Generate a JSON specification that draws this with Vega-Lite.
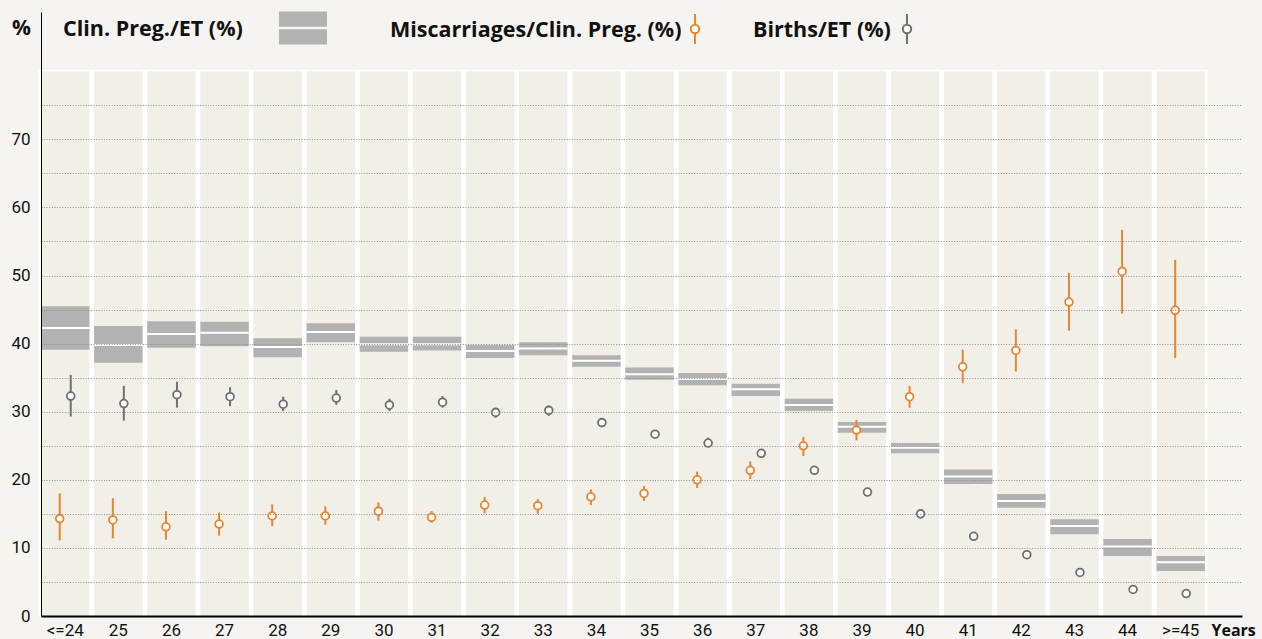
{
  "$schema": "https://vega.github.io/schema/vega-lite/v6.json",
  "width": 1201,
  "height": 604,
  "autosize": "none",
  "padding": {"left": 41, "top": 12, "right": 20, "bottom": 23},
  "background": "#f5f4f0",
  "config": {
    "view": {"stroke": null},
    "legend": {"titleFont": "Open Sans", "titleFontSize": 21.5, "titleFontWeight": "bold", "titleColor": "#111111", "titleLimit": 1000, "padding": 0, "labelFontSize": 1, "titleAnchor": "middle", "titleBaseline": "middle"}
  },
  "data": {"values": [
    {"age": "<=24", "p_lo": 39.1, "p": 42.3, "p_hi": 45.5, "m_lo": 11.1, "m": 14.3, "m_hi": 18.0, "b_lo": 29.3, "b": 32.3, "b_hi": 35.4},
    {"age": "25", "p_lo": 37.2, "p": 39.8, "p_hi": 42.6, "m_lo": 11.4, "m": 14.1, "m_hi": 17.3, "b_lo": 28.7, "b": 31.2, "b_hi": 33.8},
    {"age": "26", "p_lo": 39.4, "p": 41.4, "p_hi": 43.3, "m_lo": 11.2, "m": 13.1, "m_hi": 15.4, "b_lo": 30.6, "b": 32.5, "b_hi": 34.4},
    {"age": "27", "p_lo": 39.6, "p": 41.6, "p_hi": 43.2, "m_lo": 11.8, "m": 13.5, "m_hi": 15.2, "b_lo": 30.8, "b": 32.2, "b_hi": 33.6},
    {"age": "28", "p_lo": 38.0, "p": 39.5, "p_hi": 40.8, "m_lo": 13.2, "m": 14.7, "m_hi": 16.4, "b_lo": 30.1, "b": 31.1, "b_hi": 32.2},
    {"age": "29", "p_lo": 40.2, "p": 41.7, "p_hi": 43.0, "m_lo": 13.4, "m": 14.7, "m_hi": 16.1, "b_lo": 31.0, "b": 32.0, "b_hi": 33.2},
    {"age": "30", "p_lo": 38.8, "p": 39.9, "p_hi": 41.0, "m_lo": 14.0, "m": 15.4, "m_hi": 16.7, "b_lo": 30.1, "b": 31.0, "b_hi": 31.9},
    {"age": "31", "p_lo": 39.0, "p": 39.9, "p_hi": 41.0, "m_lo": 13.7, "m": 14.5, "m_hi": 15.4, "b_lo": 30.6, "b": 31.4, "b_hi": 32.3},
    {"age": "32", "p_lo": 37.9, "p": 38.9, "p_hi": 39.8, "m_lo": 15.1, "m": 16.3, "m_hi": 17.5, "b_lo": 29.1, "b": 29.9, "b_hi": 30.4},
    {"age": "33", "p_lo": 38.3, "p": 39.3, "p_hi": 40.2, "m_lo": 15.0, "m": 16.2, "m_hi": 17.2, "b_lo": 29.4, "b": 30.2, "b_hi": 30.9},
    {"age": "34", "p_lo": 36.6, "p": 37.5, "p_hi": 38.3, "m_lo": 16.3, "m": 17.5, "m_hi": 18.6, "b_lo": 28.0, "b": 28.4, "b_hi": 28.9},
    {"age": "35", "p_lo": 34.7, "p": 35.5, "p_hi": 36.5, "m_lo": 16.9, "m": 18.0, "m_hi": 19.1, "b_lo": 26.2, "b": 26.7, "b_hi": 27.2},
    {"age": "36", "p_lo": 33.9, "p": 34.8, "p_hi": 35.7, "m_lo": 18.8, "m": 20.0, "m_hi": 21.2, "b_lo": 24.8, "b": 25.4, "b_hi": 26.2},
    {"age": "37", "p_lo": 32.3, "p": 33.3, "p_hi": 34.1, "m_lo": 20.1, "m": 21.4, "m_hi": 22.7, "b_lo": 23.4, "b": 23.9, "b_hi": 24.4},
    {"age": "38", "p_lo": 30.1, "p": 31.0, "p_hi": 31.9, "m_lo": 23.5, "m": 25.0, "m_hi": 26.3, "b_lo": 21.0, "b": 21.4, "b_hi": 21.9},
    {"age": "39", "p_lo": 26.9, "p": 27.8, "p_hi": 28.5, "m_lo": 25.8, "m": 27.3, "m_hi": 28.8, "b_lo": 17.8, "b": 18.2, "b_hi": 18.6},
    {"age": "40", "p_lo": 23.9, "p": 24.7, "p_hi": 25.4, "m_lo": 30.6, "m": 32.2, "m_hi": 33.8, "b_lo": 14.6, "b": 15.0, "b_hi": 15.4},
    {"age": "41", "p_lo": 19.4, "p": 20.5, "p_hi": 21.5, "m_lo": 34.2, "m": 36.6, "m_hi": 39.1, "b_lo": 11.3, "b": 11.7, "b_hi": 12.1},
    {"age": "42", "p_lo": 15.9, "p": 16.9, "p_hi": 17.9, "m_lo": 35.9, "m": 39.0, "m_hi": 42.1, "b_lo": 8.6, "b": 9.0, "b_hi": 9.4},
    {"age": "43", "p_lo": 12.0, "p": 13.2, "p_hi": 14.2, "m_lo": 41.9, "m": 46.1, "m_hi": 50.4, "b_lo": 6.0, "b": 6.4, "b_hi": 6.8},
    {"age": "44", "p_lo": 8.8, "p": 10.2, "p_hi": 11.3, "m_lo": 44.4, "m": 50.6, "m_hi": 56.7, "b_lo": 3.5, "b": 3.9, "b_hi": 4.5},
    {"age": ">=45", "p_lo": 6.6, "p": 7.9, "p_hi": 8.8, "m_lo": 37.9, "m": 44.9, "m_hi": 52.3, "b_lo": 2.9, "b": 3.3, "b_hi": 3.7}
  ]},
  "encoding": {
    "x": {
      "field": "age", "type": "nominal",
      "scale": {"domain": ["<=24","25","26","27","28","29","30","31","32","33","34","35","36","37","38","39","40","41","42","43","44",">=45"], "paddingInner": 0.088, "paddingOuter": 0.349, "align": 0},
      "axis": {"title": "Years", "labelAngle": 0, "ticks": false, "domainColor": "#000000", "domainWidth": 2, "labelFont": "Liberation Sans Narrow, Roboto", "labelFontSize": 17, "labelColor": "#111111", "labelPadding": 6, "titleFont": "Open Sans", "titleFontSize": 16, "titleFontWeight": "bold", "titleColor": "#111111", "titleX": 1170, "titleY": 14, "titleAlign": "left", "titleBaseline": "middle", "grid": false, "zindex": 1}
    }
  },
  "layer": [
    {
      "mark": {"type": "bar", "color": "#ffffff", "width": {"band": 1.1}},
      "encoding": {
        "y": {"datum": 0, "type": "quantitative", "scale": {"domain": [0, 88.7]}},
        "y2": {"datum": 80.2}
      }
    },
    {
      "mark": {"type": "bar", "color": "#f2efe8"},
      "encoding": {
        "y": {"datum": 0, "type": "quantitative", "scale": {"domain": [0, 88.7]}},
        "y2": {"datum": 80}
      }
    },
    {
      "mark": {"type": "bar", "opacity": 1},
      "encoding": {
        "y": {"field": "p_lo", "type": "quantitative", "scale": {"domain": [0, 88.7]},
          "axis": {"title": "%", "values": [0,5,10,15,20,25,30,35,40,45,50,55,60,65,70,75], "labelExpr": "datum.value % 10 == 0 ? datum.label : ''", "ticks": false, "domainColor": "#000000", "domainWidth": 1, "grid": true, "gridColor": "#8f8f8f", "gridDash": [1, 1.6], "gridWidth": 1, "labelFont": "Liberation Sans Narrow, Roboto", "labelFontSize": 17, "labelColor": "#111111", "labelPadding": 11, "titleAngle": 0, "titleX": -20, "titleY": 16, "titleAlign": "center", "titleBaseline": "middle", "titleFont": "Open Sans", "titleFontSize": 21, "titleFontWeight": "bold", "titleColor": "#111111", "zindex": 1}},
        "y2": {"field": "p_hi"},
        "fill": {"datum": "Clin. Preg./ET (%)", "scale": {"range": ["#b2b2b2"]},
          "legend": {"orient": "none", "legendX": 22, "legendY": -8, "title": "Clin. Preg./ET (%)", "titleOrient": "left", "titlePadding": 36, "labelExpr": "''", "labelOffset": 0, "symbolType": "M-1,-0.69H1V-0.05H-1Z M-1,0.05H1V0.69H-1Z M-1,1.19L1,1.19", "symbolSize": 2304, "symbolStrokeWidth": 0}}
      }
    },
    {
      "mark": {"type": "tick", "color": "#ffffff", "thickness": 2, "size": 48.5, "opacity": 1},
      "encoding": {
        "y": {"field": "p", "type": "quantitative", "scale": {"domain": [0, 88.7]}}
      }
    },
    {
      "mark": {"type": "rule", "color": "#e8852e", "strokeWidth": 2, "xOffset": -5.5},
      "encoding": {
        "y": {"field": "m_lo", "type": "quantitative", "scale": {"domain": [0, 88.7]}},
        "y2": {"field": "m_hi"}
      }
    },
    {
      "mark": {"type": "point", "filled": true, "fill": "#ffffff", "strokeWidth": 1.8, "size": 60, "opacity": 1, "xOffset": -5.5},
      "encoding": {
        "y": {"field": "m", "type": "quantitative", "scale": {"domain": [0, 88.7]}},
        "stroke": {"datum": "Miscarriages/Clin. Preg. (%)", "scale": {"range": ["#e8852e"]},
          "legend": {"orient": "none", "legendX": 349, "legendY": 1, "title": "Miscarriages/Clin. Preg. (%)", "titleOrient": "left", "titlePadding": -3, "labelExpr": "''", "labelOffset": 0, "symbolType": "M0,-1V-0.28M0,0.28V1M0.28,0A0.28,0.28,0,1,1,-0.28,0A0.28,0.28,0,1,1,0.28,0Z", "symbolSize": 900, "symbolStrokeWidth": 2, "symbolFillColor": "#ffffff",
            "encode": {"symbols": {"update": {"fill": {"value": "#ffffff"}, "strokeWidth": {"value": 2}}}}}}
      }
    },
    {
      "mark": {"type": "rule", "color": "#707070", "strokeWidth": 2, "xOffset": 5.5},
      "encoding": {
        "y": {"field": "b_lo", "type": "quantitative", "scale": {"domain": [0, 88.7]}},
        "y2": {"field": "b_hi"}
      }
    },
    {
      "mark": {"type": "point", "filled": true, "fill": "#ffffff", "strokeWidth": 1.8, "size": 60, "opacity": 1, "xOffset": 5.5},
      "encoding": {
        "y": {"field": "b", "type": "quantitative", "scale": {"domain": [0, 88.7]}},
        "stroke": {"datum": "Births/ET (%)", "scale": {"range": ["#707070"]},
          "legend": {"orient": "none", "legendX": 712, "legendY": 1, "title": "Births/ET (%)", "titleOrient": "left", "titlePadding": 0, "labelExpr": "''", "labelOffset": 0, "symbolType": "M0,-1V-0.28M0,0.28V1M0.28,0A0.28,0.28,0,1,1,-0.28,0A0.28,0.28,0,1,1,0.28,0Z", "symbolSize": 900, "symbolStrokeWidth": 2, "symbolFillColor": "#ffffff",
            "encode": {"symbols": {"update": {"fill": {"value": "#ffffff"}, "strokeWidth": {"value": 2}}}}}}
      }
    }
  ],
  "resolve": {"scale": {"fill": "independent", "stroke": "independent"}, "legend": {"fill": "independent", "stroke": "independent"}}
}
